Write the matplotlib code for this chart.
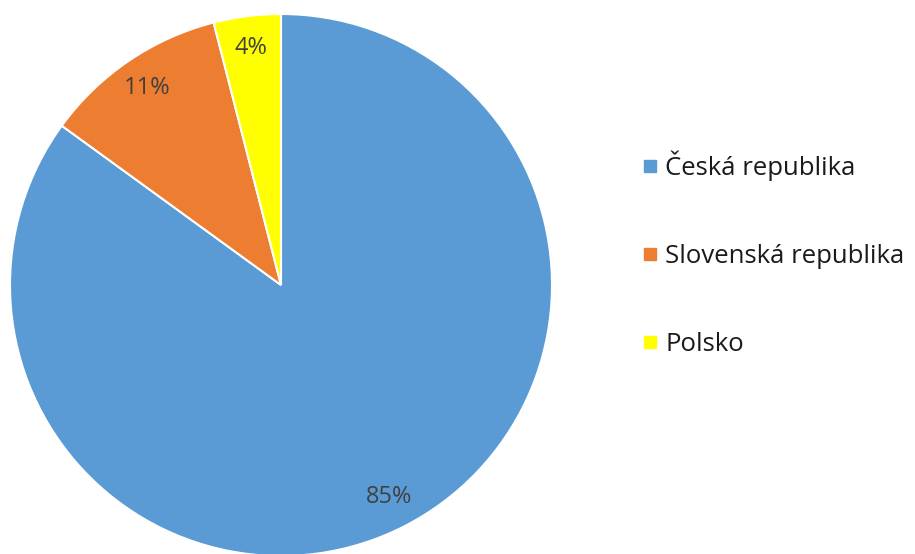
import matplotlib.pyplot as plt
from matplotlib.lines import Line2D

plt.rcParams['font.family'] = ['Open Sans', 'DejaVu Sans']

countries = ['Česká republika', 'Slovenská republika', 'Polsko']
shares = [85, 11, 4]
colors = ['#5B9BD5', '#ED7D31', '#FFFF00']

fig = plt.figure(figsize=(9.15, 5.54), dpi=100)
ax = fig.add_axes([10 / 915, -2 / 554, 542 / 915, 542 / 554])

wedges, texts, autotexts = ax.pie(
    shares, colors=colors, startangle=90, counterclock=False,
    autopct='%d%%', pctdistance=0.88,
    wedgeprops=dict(edgecolor='white', linewidth=1.5),
    textprops=dict(color='#404040', fontsize=17),
)
ax.set_xlim(-1, 1)
ax.set_ylim(-1, 1)
ax.set_aspect('equal')

handles = [Line2D([], [], marker='s', linestyle='none', markersize=9,
                  markerfacecolor=c, markeredgecolor=c) for c in colors]
fig.legend(handles, countries, loc='center left', bbox_to_anchor=(0.675, 0.542),
           frameon=False, fontsize=18.5, labelspacing=2.45, handletextpad=0.25,
           handlelength=0.7, labelcolor='#1a1a1a')

fig.savefig('out.png', dpi=100)
